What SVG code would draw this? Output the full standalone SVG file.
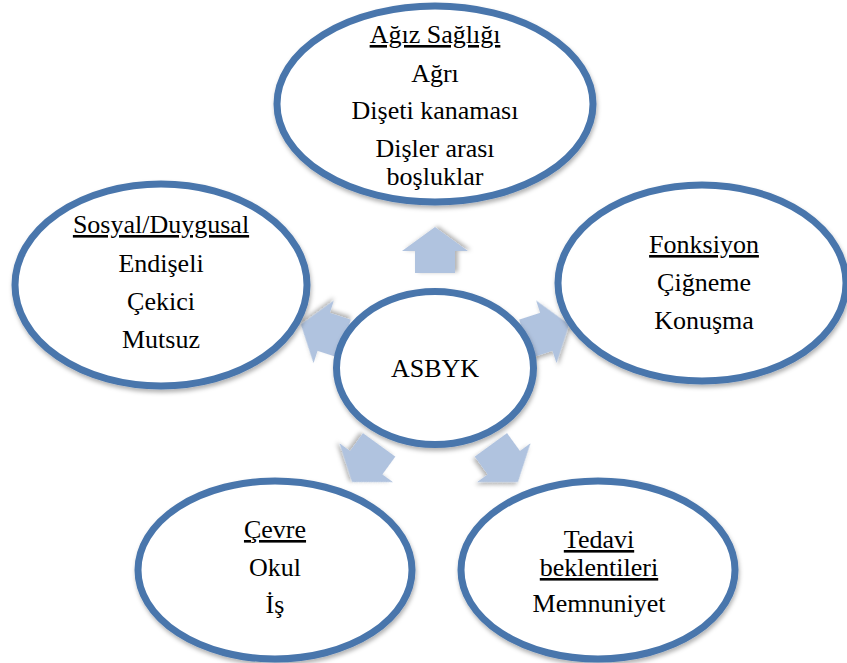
<svg xmlns="http://www.w3.org/2000/svg" width="847" height="663" viewBox="0 0 847 663" font-family="'Liberation Serif', 'Times New Roman', serif">
<defs>
<filter id="sh" x="-10%" y="-10%" width="120%" height="130%">
<feDropShadow dx="1" dy="3" stdDeviation="2" flood-color="#000" flood-opacity="0.3"/>
</filter>
<polygon id="arw" points="141,0 117,-33 117,-20 95,-20 95,20 117,20 117,33"/>
</defs>
<style>
.n{fill:#fff;stroke:#4a76ac;stroke-width:7;filter:url(#sh)}
.a{fill:#b0c3df;filter:url(#sh)}
.t{font-family:'Liberation Serif','Times New Roman',serif;font-size:26px;fill:#000;text-anchor:middle}
.u{text-decoration:underline}
</style>
<rect width="847" height="663" fill="#fff"/>
<g id="connectors">
<use href="#arw" class="a" transform="translate(435,368) rotate(-90)"/>
<use href="#arw" class="a" transform="translate(435,368) rotate(-18)"/>
<use href="#arw" class="a" transform="translate(435,368) rotate(54)"/>
<use href="#arw" class="a" transform="translate(435,368) rotate(126)"/>
<use href="#arw" class="a" transform="translate(435,368) rotate(198)"/>
</g>
<g id="agiz">
<ellipse class="n" cx="435" cy="104" rx="158" ry="98"/>
<g class="t" font-family="Liberation Serif, serif">
<text x="435" y="43" class="u">Ağız Sağlığı</text>
<text x="435" y="82">Ağrı</text>
<text x="435" y="119">Dişeti kanaması</text>
<text x="435" y="157">Dişler arası</text>
<text x="435" y="185">boşluklar</text>
</g>
</g>
<g id="sosyal">
<ellipse class="n" cx="161" cy="285" rx="146" ry="101"/>
<g class="t" font-family="Liberation Serif, serif">
<text x="161" y="233" class="u">Sosyal/Duygusal</text>
<text x="161" y="272">Endişeli</text>
<text x="161" y="310">Çekici</text>
<text x="161" y="348">Mutsuz</text>
</g>
</g>
<g id="fonksiyon">
<ellipse class="n" cx="702" cy="283" rx="144" ry="98"/>
<g class="t" font-family="Liberation Serif, serif">
<text x="704" y="253" class="u">Fonksiyon</text>
<text x="704" y="291">Çiğneme</text>
<text x="704" y="329">Konuşma</text>
</g>
</g>
<g id="cevre">
<ellipse class="n" cx="275" cy="570" rx="137" ry="89"/>
<g class="t" font-family="Liberation Serif, serif">
<text x="275" y="538" class="u">Çevre</text>
<text x="275" y="576">Okul</text>
<text x="275" y="613">İş</text>
</g>
</g>
<g id="tedavi">
<ellipse class="n" cx="598" cy="570" rx="137" ry="89"/>
<g class="t" font-family="Liberation Serif, serif">
<text x="599" y="548" class="u">Tedavi</text>
<text x="599" y="576" class="u">beklentileri</text>
<text x="599" y="612">Memnuniyet</text>
</g>
</g>
<g id="asbyk">
<ellipse class="n" cx="435" cy="368" rx="98.5" ry="76.5"/>
<text class="t" x="435" y="377">ASBYK</text>
</g>
</svg>
